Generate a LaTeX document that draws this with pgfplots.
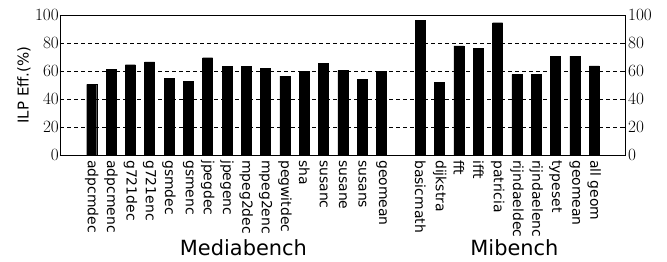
\documentclass[border=0pt]{standalone}
\usepackage{pgfplots}
\pgfplotsset{compat=1.18}
\usepackage{fontspec}
\setmainfont{DejaVu Sans}
\begin{document}
\begin{tikzpicture}[x=1bp,y=1bp]
\useasboundingbox (-60,-106) rectangle (607,155);
\begin{axis}[
  at={(0,0)}, anchor=south west,
  scale only axis, width=565bp, height=140bp,
  xmin=-1.64, xmax=27.59, ymin=0, ymax=100,
  ybar, bar width=10bp,
  xtick={0,1,2,3,4,5,6,7,8,9,10,11,12,13,14,15,17,18,19,20,21,22,23,24,25,26},
  xticklabels={adpcmdec,adpcmenc,g721dec,g721enc,gsmdec,gsmenc,jpegdec,jpegenc,mpeg2dec,mpeg2enc,pegwitdec,sha,susanc,susane,susans,geomean,basicmath,dijkstra,fft,ifft,patricia,rijndaeldec,rijndaelenc,typeset,geomean,all geom},
  xticklabel style={rotate=-90, anchor=west, inner sep=2bp, font=\fontsize{14}{14}\selectfont},
  x tick style={draw=none},
  ytick={0,20,40,60,80,100},
  yticklabel style={inner sep=1bp, font=\fontsize{16.5}{16.5}\selectfont},
  y tick style={black, line width=0.6bp},
  major tick length=3bp,
  ymajorgrids, grid style={black, dash pattern=on 4bp off 3bp, line width=0.7bp},
  ylabel={ILP Eff.(\%)},
  ylabel style={at={([xshift=-36bp]rel axis cs:0,0.5)}, anchor=center, font=\fontsize{15}{15}\selectfont},
  axis line style={black, line width=0.8bp},
  clip=false,
]
\addplot[fill=black, draw=black] coordinates {
(0,50.5) (1,61.2) (2,64.5) (3,66.5) (4,54.6) (5,52.4) (6,69.5) (7,63.4) (8,63.1) (9,62.1) (10,56.4) (11,59.8) (12,65.7) (13,60.5) (14,54) (15,60)
(17,96.2) (18,52.1) (19,77.9) (20,76) (21,94.5) (22,57.4) (23,57.4) (24,70.7) (25,70.7) (26,63.6)
};
\node[anchor=base, font=\fontsize{21}{21}\selectfont, inner sep=0] at (axis cs:7.85,0) [yshift=-100bp] {Mediabench};
\node[anchor=base, font=\fontsize{21}{21}\selectfont, inner sep=0] at (axis cs:21.87,0) [yshift=-100bp] {Mibench};
\end{axis}
\begin{axis}[
  at={(0,0)}, anchor=south west,
  scale only axis, width=565bp, height=140bp,
  xmin=-1.64, xmax=27.59, ymin=0, ymax=100,
  hide x axis, axis x line=none,
  axis y line*=right,
  ytick={0,20,40,60,80,100},
  yticklabel style={inner sep=1bp, xshift=2bp, font=\fontsize{16.5}{16.5}\selectfont},
  y tick style={black, line width=0.6bp},
  major tick length=3bp,
  axis line style={black, line width=0.8bp},
]
\end{axis}
\end{tikzpicture}
\end{document}
